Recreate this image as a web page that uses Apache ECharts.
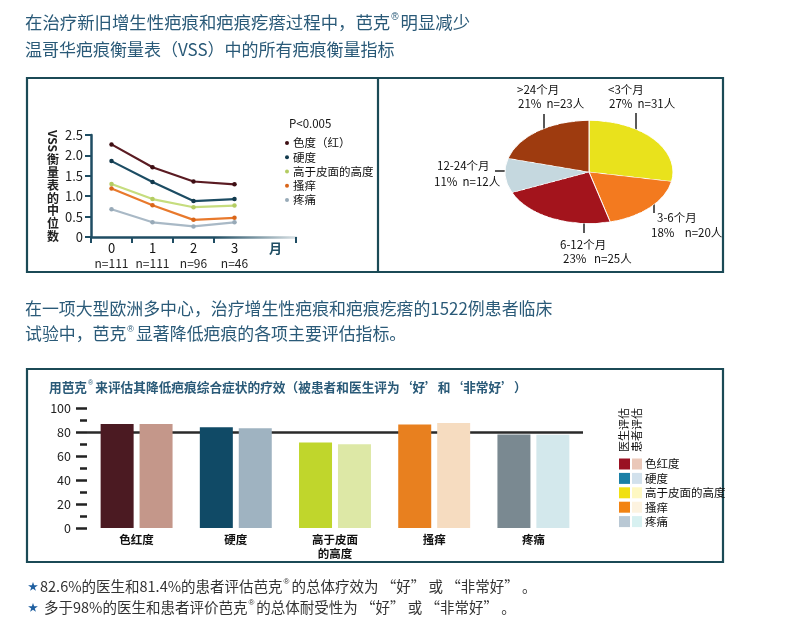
<!DOCTYPE html>
<html><head><meta charset="utf-8">
<script src="https://cdn.jsdelivr.net/npm/echarts@6/dist/echarts.min.js"></script>
<style>
html,body{margin:0;padding:0;background:#fff;}
#main{position:absolute;left:0;top:0;width:790px;height:644px;}
#pie{position:absolute;left:489px;top:71.5px;width:200px;height:200px;transform:scaleY(0.613);transform-origin:50% 50%;}
</style></head><body>
<div id="main"></div><div id="pie"></div>
<script>
// ---- line chart data (VSS median scores) ----
const months = ['0','1','2','3','月'];
const monthN = ['n=111','n=111','n=96','n=46',''];
const lineNames = ['色度（红）','硬度','高于皮面的高度','搔痒','疼痛'];
const redness = [2.27,1.71,1.36,1.29];
const hardness = [1.86,1.35,0.88,0.93];
const elevation = [1.30,0.93,0.73,0.77];
const itching = [1.19,0.78,0.42,0.47];
const pain = [0.68,0.36,0.26,0.36];
const lineColors = ['#5a1b22','#1c4c63','#c6dd7e','#e8792c','#a9b9c6'];
const dotColors = ['#3e0f14','#123a4d','#b4cc62','#d9661a','#98aab8'];

// ---- pie data (scar age) ----
const pieNames = ['<3个月','3-6个月','6-12个月','12-24个月','>24个月'];
const piePct = [27,18,23,11,21];
const pieN = [31,20,25,12,23];
const pieColors = ['#e9e21c','#f37a1f','#a3141c','#c5d8df','#9e3b0f'];

// ---- bar data (good / very good ratings, %) ----
const barCats = ['色红度','硬度','高于皮面\n的高度','搔痒','疼痛'];
const doctorVals = [86.7,84.0,71.2,86.2,78.0];
const patientVals = [86.7,83.2,69.7,87.5,77.8];
const refLine = 80;
const doctorColors = ['#4b1a22','#104a66','#c0d62c','#e8801f','#7a8991'];
const patientColors = ['#c4978a','#9fb3c1','#dde8a6','#f6dcc0','#d3e8ec'];
const legDocColors = ['#9a1122','#1a7fa6','#f0e012','#f28312','#b9c8d4'];
const legPatColors = ['#eac8b9','#d2e1ec','#fef8c2','#fdf3e0','#d8f1f1'];
const legNames = ['色红度','硬度','高于皮面的高度','搔痒','疼痛'];

const FF = '"Noto Sans CJK SC","Noto Sans",sans-serif';
const TEAL = '#2a5a78';
const FRAME = '#1b4a56';

function txt(x, y, text, size, color, extra) {
  return Object.assign({type:'text', x:x, y:y, z:10,
    style: Object.assign({text:text, fill:color||'#111', fontSize:size, fontFamily:FF, verticalAlign:'middle'}, (extra&&extra.style)||{})},
    extra ? Object.assign({}, extra, {style:undefined}) : {});
}
function supText(x, y, text, size, color, weight) {
  return {type:'text', x:x, y:y, z:10, style:{text:text, fill:color, fontSize:size, fontFamily:FF, fontWeight:weight||'normal', verticalAlign:'middle',
    rich:{s:{fontSize:Math.round(size*0.55), fill:color, verticalAlign:'top', lineHeight:size*1.1, padding:[0,2,0,1]}}}};
}

const graphics = [];
// headings
graphics.push(supText(25, 22, '在治疗新旧增生性疤痕和疤痕疙瘩过程中，芭克{s|®}明显减少', 17.4, TEAL));
graphics.push(txt(25, 50, '温哥华疤痕衡量表（VSS）中的所有疤痕衡量指标', 17, TEAL));
graphics.push(txt(25, 309, '在一项大型欧洲多中心，治疗增生性疤痕和疤痕疙瘩的1522例患者临床', 16.9, TEAL));
graphics.push(supText(25, 334, '试验中，芭克{s|®}显著降低疤痕的各项主要评估指标。', 16.9, TEAL));
// frames
graphics.push({type:'rect', z:1, shape:{x:27,y:78,width:696,height:194}, style:{fill:'none', stroke:FRAME, lineWidth:2.2}});
graphics.push({type:'line', z:1, shape:{x1:378,y1:78,x2:378,y2:272}, style:{stroke:FRAME, lineWidth:2.2}});
graphics.push({type:'rect', z:1, shape:{x:27,y:369,width:696,height:193}, style:{fill:'none', stroke:FRAME, lineWidth:2.2}});
// line chart titles
graphics.push(txt(45, 96, '在VSS参数得分的中位数变化', 13, TEAL, {style:{fontWeight:'bold'}}));
graphics.push(txt(289, 124, 'P<0.005', 11.5, '#111'));
graphics.push({type:'text', x:53, y:141, rotation:-Math.PI/2, z:10, style:{text:'VSS', fontSize:12, fontWeight:'bold', fontFamily:FF, fill:'#222', align:'center', verticalAlign:'middle'}});
graphics.push({type:'text', x:53, y:198, z:10, style:{text:'衡\n量\n表\n的\n中\n位\n数', fontSize:12, lineHeight:12.8, fontWeight:'bold', fontFamily:FF, fill:'#222', align:'center', verticalAlign:'middle'}});
// pie title & labels
graphics.push(txt(401, 92, '疤龄分布', 13, TEAL, {style:{fontWeight:'bold'}}));
const pieLabelPos = [ // [x1,y1,x2,y2] for name line and value line
  [608,90,609,104],[657,218,651,233],[560,245,563,259],[437,166,434,182],[517,90,518,104]];
const pieGaps = ['  ','    ','   ','  ','  '];
pieNames.forEach((n,i)=>{
  const p = pieLabelPos[i];
  graphics.push(txt(p[0], p[1], n, 11.5, '#111'));
  graphics.push(txt(p[2], p[3], piePct[i] + '%' + pieGaps[i] + 'n=' + pieN[i] + '人', 11.5, '#111'));
});
const leaders = [[636,113,636,143],[654,188,654,213],[584,210,584,233],[495,171,520,171],[544,114,544,143]];
leaders.forEach(l=>graphics.push({type:'line', z:10, shape:{x1:l[0],y1:l[1],x2:l[2],y2:l[3]}, style:{stroke:'#222', lineWidth:1.5}}));
// bar chart title etc.
graphics.push(supText(49, 387, '用芭克{s|®}来评估其降低疤痕综合症状的疗效（被患者和医生评为‘好’和‘非常好’）', 12.7, TEAL, 'bold'));
graphics.push(txt(557, 404, 'N=1522', 10, '#111', {style:{fontWeight:'bold'}}));
graphics.push({type:'text', x:624, y:430, rotation:Math.PI/2, z:10, style:{text:'医生评估', fontSize:11, fontFamily:FF, fill:'#111', align:'center', verticalAlign:'middle'}});
graphics.push({type:'text', x:637, y:430, rotation:Math.PI/2, z:10, style:{text:'患者评估', fontSize:11, fontFamily:FF, fill:'#111', align:'center', verticalAlign:'middle'}});
legNames.forEach((n,i)=>{
  const yc = 464 + i*14.4;
  graphics.push({type:'rect', z:10, shape:{x:619,y:yc-5.5,width:11,height:11}, style:{fill:legDocColors[i]}});
  graphics.push({type:'rect', z:10, shape:{x:632,y:yc-5.5,width:10,height:11}, style:{fill:legPatColors[i]}});
  graphics.push(txt(645, yc, n, 11.5, '#111'));
});
// bottom notes
graphics.push(txt(28, 586, '★', 10, '#1f5fa0'));
graphics.push(supText(40, 586, '82.6%的医生和81.4%的患者评估芭克{s|®}的总体疗效为 “好” 或 “非常好” 。', 14.5, '#333'));
graphics.push(txt(28, 607, '★', 10, '#1f5fa0'));
graphics.push(supText(44, 607, '多于98%的医生和患者评价芭克{s|®}的总体耐受性为 “好” 或 “非常好” 。', 14.5, '#333'));

const lineData = [redness, hardness, elevation, itching, pain];
const chart = echarts.init(document.getElementById('main'));
chart.setOption({
  backgroundColor:'#fff',
  animation:false,
  textStyle:{fontFamily:FF},
  legend:{
    data: lineNames, orient:'vertical', left:280, top:131, itemGap:0,
    icon:'circle', itemWidth:4, itemHeight:4,
    textStyle:{fontSize:11.5, color:'#111', lineHeight:14.2, padding:[0,0,0,-1]},
    selectedMode:false
  },
  grid:[
    {left:91, top:135, width:205, height:102},
    {left:87, top:408, width:496, height:120}
  ],
  xAxis:[
    {type:'category', gridIndex:0, data:months, boundaryGap:true,
     axisLine:{lineStyle:{width:2.5, color:new echarts.graphic.LinearGradient(0,0,1,0,[{offset:0,color:'#1f4d63'},{offset:0.6,color:'#1f4d63'},{offset:1,color:'rgba(31,77,99,0.15)'}])}},
     axisTick:{show:true, length:6, lineStyle:{color:'#1f4d63', width:2}, interval:function(i){return i<4;}},
     axisLabel:{margin:4, interval:0,
       formatter:function(v,i){ return i<4 ? '{a|'+v+'}\n{b|'+monthN[i]+'}' : '{m|'+v+'}'; },
       rich:{a:{fontSize:13, color:'#111', lineHeight:15, fontFamily:FF},
             b:{fontSize:12, color:'#222', lineHeight:14, fontFamily:FF},
             m:{fontSize:13, color:'#1f4d63', fontWeight:'bold', lineHeight:15, fontFamily:FF}}}},
    {type:'category', gridIndex:1, data:barCats,
     axisLine:{show:false}, axisTick:{show:false},
     axisLabel:{margin:5, interval:0, fontSize:11.5, fontWeight:'bold', color:'#111', lineHeight:14}}
  ],
  yAxis:[
    {type:'value', gridIndex:0, min:0, max:2.5, interval:0.5,
     axisLine:{show:true, lineStyle:{color:'#1f4d63', width:2.5}},
     axisTick:{show:true, length:6, lineStyle:{color:'#1f4d63', width:2}},
     splitLine:{show:false},
     axisLabel:{margin:8, fontSize:13, color:'#222', formatter:function(v){return v===0?'0':v.toFixed(1);}}},
    {type:'value', gridIndex:1, min:0, max:100, interval:20,
     axisLine:{show:false},
     axisTick:{show:true, length:11, lineStyle:{color:'#222', width:2.5}},
     minorTick:{show:true, splitNumber:2, length:7, lineStyle:{color:'#222', width:2.5}},
     splitLine:{show:false},
     axisLabel:{margin:16, fontSize:12.5, color:'#222'}}
  ],
  series: lineNames.map((n,i)=>({
    name:n, type:'line', xAxisIndex:0, yAxisIndex:0, data:lineData[i],
    symbol:'circle', symbolSize:4.5, showSymbol:true,
    lineStyle:{color:lineColors[i], width:2.2},
    itemStyle:{color:dotColors[i]}
  })).concat([
    {name:'医生评估', type:'bar', xAxisIndex:1, yAxisIndex:1, data:doctorVals, barWidth:33, barGap:'18%', z:3,
     itemStyle:{color:function(p){return doctorColors[p.dataIndex];}},
     markLine:{z:1, silent:true, symbol:'none', label:{show:false},
       lineStyle:{color:'#2a2a2a', width:2.5, type:'solid'}, data:[{yAxis:refLine}]}},
    {name:'患者评估', type:'bar', xAxisIndex:1, yAxisIndex:1, data:patientVals, barWidth:33, z:3,
     itemStyle:{color:function(p){return patientColors[p.dataIndex];}}}
  ]),
  graphic: graphics
});

const pie = echarts.init(document.getElementById('pie'));
pie.setOption({
  animation:false,
  series:[{type:'pie', center:['50%','50%'], radius:84, startAngle:90, clockwise:true,
    label:{show:false}, labelLine:{show:false}, silent:true,
    itemStyle:{borderColor:'#fff', borderWidth:1},
    data: pieNames.map((n,i)=>({name:n, value:pieN[i], itemStyle:{color:pieColors[i]}}))}]
});
</script>
</body></html>
